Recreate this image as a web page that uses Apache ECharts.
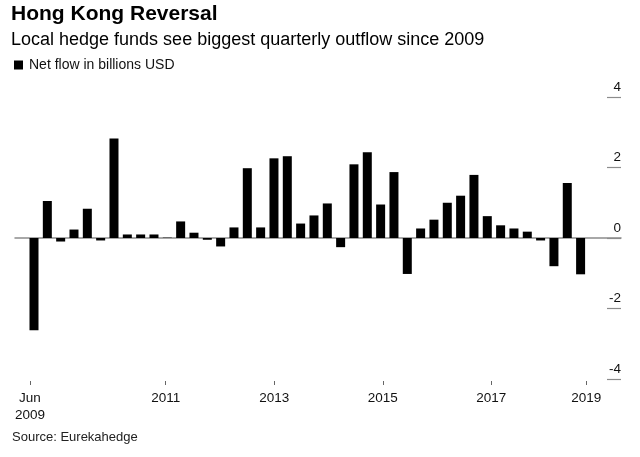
<!DOCTYPE html>
<html>
<head>
<meta charset="utf-8">
<script src="https://cdn.jsdelivr.net/npm/echarts@6/dist/echarts.min.js"></script>
<style>
html,body{margin:0;padding:0;background:#fff;}
#chart{width:640px;height:457px;}
</style>
</head>
<body>
<div id="chart"></div>
<script>
// Quarter-end periods, Jun 2009 – Sep 2019
const categories = [
  'Jun 2009','Sep 2009','Dec 2009',
  'Mar 2010','Jun 2010','Sep 2010','Dec 2010',
  'Mar 2011','Jun 2011','Sep 2011','Dec 2011',
  'Mar 2012','Jun 2012','Sep 2012','Dec 2012',
  'Mar 2013','Jun 2013','Sep 2013','Dec 2013',
  'Mar 2014','Jun 2014','Sep 2014','Dec 2014',
  'Mar 2015','Jun 2015','Sep 2015','Dec 2015',
  'Mar 2016','Jun 2016','Sep 2016','Dec 2016',
  'Mar 2017','Jun 2017','Sep 2017','Dec 2017',
  'Mar 2018','Jun 2018','Sep 2018','Dec 2018',
  'Mar 2019','Jun 2019','Sep 2019'
];
// Net flow in billions USD
const netFlow = [
  -2.62, 1.05, -0.10, 0.24, 0.83, -0.07, 2.82, 0.10, 0.10, 0.10,
  0.01, 0.47, 0.15, -0.05, -0.24, 0.30, 1.98, 0.30, 2.26, 2.32,
  0.41, 0.64, 0.98, -0.26, 2.09, 2.43, 0.95, 1.87, -1.02, 0.27,
  0.52, 1.00, 1.20, 1.79, 0.62, 0.36, 0.27, 0.18, -0.07, -0.80,
  1.56, -1.03
];
// Category indices that carry an x-axis label, and their texts
const xTickIndices = [0, 10, 18, 26, 34, 41];
const xTickLabels = ['Jun\n2009', '2011', '2013', '2015', '2017', '2019'];
// Y-axis ticks
const yMin = -4, yMax = 4, yStep = 2;

const seriesName = 'Net flow in billions USD';
const titleText = 'Hong Kong Reversal';
const subtitleText = 'Local hedge funds see biggest quarterly outflow since 2009';
const sourceText = 'Source: Eurekahedge';

const FONT = '"Liberation Sans", Arial, Helvetica, sans-serif';
const chart = echarts.init(document.getElementById('chart'), null, {renderer: 'canvas'});

const showTick = (idx) => xTickIndices.indexOf(idx) >= 0;

chart.setOption({
  animation: false,
  backgroundColor: '#fff',
  textStyle: {fontFamily: FONT},
  title: [
    {text: titleText, left: 11, top: 4, padding: 0,
     textStyle: {fontFamily: FONT, fontWeight: 'bold', fontSize: 21, color: '#000'}},
    {text: subtitleText, left: 11, top: 31, padding: 0,
     textStyle: {fontFamily: FONT, fontWeight: 'normal', fontSize: 18, color: '#000'}},
    {text: sourceText, left: 12, top: 431, padding: 0,
     textStyle: {fontFamily: FONT, fontWeight: 'normal', fontSize: 13, color: '#222'}}
  ],
  legend: {
    left: 14, top: 58, padding: 0,
    icon: 'rect', itemWidth: 9, itemHeight: 9, itemGap: 10,
    textStyle: {fontFamily: FONT, fontSize: 14, color: '#111', padding: [0, 0, 0, 1]},
    data: [seriesName]
  },
  grid: [
    {left: 15, right: 19, top: 97, bottom: 78},
    {left: 23.2, right: 46.9, top: 97, bottom: 78}
  ],
  xAxis: [
    {
      gridIndex: 0, type: 'value', min: -1.425, max: 44.03,
      axisLine: {show: true, onZero: true, lineStyle: {color: '#8c8c8c', width: 1.5}},
      axisTick: {show: false}, axisLabel: {show: false}, splitLine: {show: false}
    },
    {
      gridIndex: 1, type: 'category', data: categories, boundaryGap: true,
      position: 'bottom', offset: 2,
      axisLine: {show: false, onZero: false},
      axisTick: {show: true, alignWithLabel: true, interval: showTick, length: 4,
                 lineStyle: {color: '#666', width: 1}},
      axisLabel: {
        show: true, interval: showTick, margin: 9,
        fontFamily: FONT, fontSize: 13.5, color: '#111', lineHeight: 17,
        formatter: (val, idx) => {
          const k = xTickIndices.indexOf(idx);
          return k >= 0 ? xTickLabels[k] : '';
        }
      },
      splitLine: {show: false}
    }
  ],
  yAxis: [
    {
      gridIndex: 0, type: 'value', position: 'right',
      min: yMin, max: yMax, interval: yStep,
      axisLine: {show: false, onZero: false},
      axisTick: {show: true, inside: true, length: 14, lineStyle: {color: '#8c8c8c', width: 1.2}},
      axisLabel: {
        show: true, inside: true, margin: 0, align: 'right', verticalAlign: 'bottom',
        padding: [0, 0, 3, 0],
        fontFamily: FONT, fontSize: 13.5, color: '#111'
      },
      splitLine: {show: false}
    },
    {gridIndex: 1, type: 'value', show: false, min: yMin, max: yMax,
     axisLine: {onZero: false}}
  ],
  series: [
    {
      name: seriesName, type: 'bar',
      xAxisIndex: 0, yAxisIndex: 0,
      barWidth: 9,
      itemStyle: {color: '#000'},
      data: netFlow.map((v, i) => [i, v])
    }
  ]
});
</script>
</body>
</html>
